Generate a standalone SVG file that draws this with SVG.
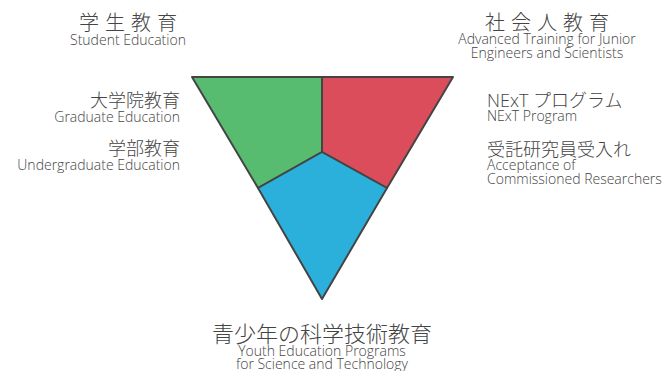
<svg xmlns="http://www.w3.org/2000/svg" width="670" height="371" viewBox="0 0 670 371">
<style>
text{font-family:"Open Sans","Noto Sans CJK JP",sans-serif;fill:#444;font-weight:300}
.jp{font-family:"Noto Sans CJK JP",sans-serif;font-weight:300}
.h{font-size:20px;letter-spacing:6px}
.s{font-size:18px}
.e{font-size:14px}
.seg{stroke:#444;stroke-width:2;stroke-linejoin:round}
</style>
<rect width="670" height="371" fill="#fff"/>
<g id="student">
<polygon class="seg" fill="#57BB70" points="192,77 322,77 322,152 258,188"/>
</g>
<g id="adult">
<polygon class="seg" fill="#DC4D5C" points="322,77 453,77 387,188 322,152"/>
</g>
<g id="youth">
<polygon class="seg" fill="#2BB0DC" points="322,152 387,188 322,299 258,188"/>
</g>
<g id="connectors"></g>
<g id="label-student" text-anchor="middle">
<text class="jp h" x="131" y="30">学生教育</text>
<text class="e" x="128" y="45">Student Education</text>
</g>
<g id="label-left" text-anchor="end">
<text class="jp s" x="180" y="107">大学院教育</text>
<text class="e" x="180" y="122">Graduate Education</text>
<text class="jp s" x="180" y="155">学部教育</text>
<text class="e" x="180" y="170">Undergraduate Education</text>
</g>
<g id="label-adult" text-anchor="middle">
<text class="jp h" x="550" y="30">社会人教育</text>
<text class="e" x="547" y="44">Advanced Training for Junior</text>
<text class="e" x="547" y="58">Engineers and Scientists</text>
</g>
<g id="label-right">
<text class="s" x="487" y="107"><tspan>NExT </tspan><tspan class="jp">プログラム</tspan></text>
<text class="e" x="487" y="121">NExT Program</text>
<text class="jp s" x="487" y="156">受託研究員受入れ</text>
<text class="e" x="487" y="170">Acceptance of</text>
<text class="e" x="487" y="184">Commissioned Researchers</text>
</g>
<g id="label-youth" text-anchor="middle">
<text class="jp" font-size="22" x="322" y="342">青少年の科学技術教育</text>
<text class="e" x="322" y="356">Youth Education Programs</text>
<text class="e" x="322" y="369">for Science and Technology</text>
</g>
</svg>
